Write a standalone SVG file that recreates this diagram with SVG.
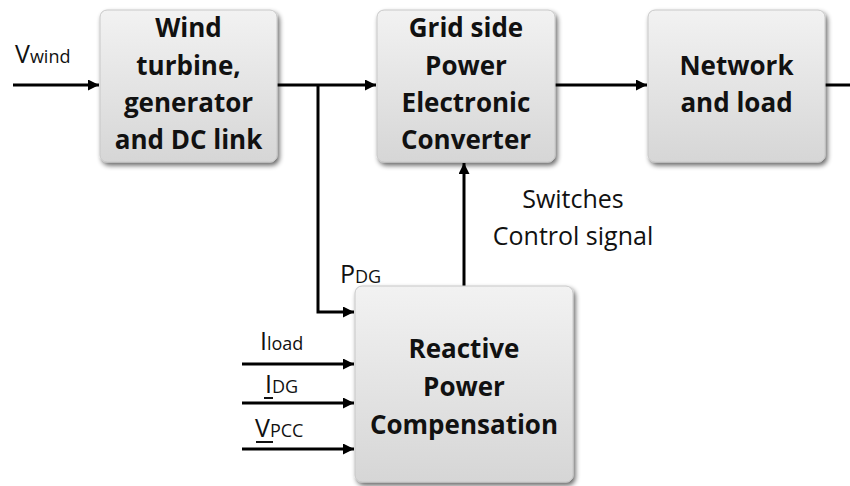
<svg xmlns="http://www.w3.org/2000/svg" width="850" height="486" viewBox="0 0 850 486">
<defs>
<linearGradient id="g" x1="0" y1="0" x2="0" y2="1">
<stop offset="0" stop-color="#f2f2f2"/>
<stop offset="1" stop-color="#d6d6d6"/>
</linearGradient>
<filter id="sh" x="-10%" y="-10%" width="125%" height="125%">
<feGaussianBlur in="SourceAlpha" stdDeviation="2.5"/>
<feOffset dx="2" dy="3" result="b"/>
<feComponentTransfer><feFuncA type="linear" slope="0.6"/></feComponentTransfer>
<feMerge><feMergeNode/><feMergeNode in="SourceGraphic"/></feMerge>
</filter>
<marker id="ah" viewBox="0 0 10 10" refX="10" refY="5" markerWidth="12" markerHeight="11" markerUnits="userSpaceOnUse" orient="auto">
<path d="M0,0 L10,5 L0,10 z" fill="#000"/>
</marker>
</defs>
<style>
.box{fill:url(#g);stroke:#c8c8c8;stroke-width:1;filter:url(#sh)}
.bt{font-family:"Open Sans","Liberation Sans",sans-serif;font-weight:bold;font-size:26px;fill:#111;text-anchor:middle}
.lb{font-family:"Open Sans","Liberation Sans",sans-serif;font-size:25px;fill:#111}
.sub{font-size:18px}
.ln{fill:none;stroke:#000;stroke-width:3}
.ar{fill:none;stroke:#000;stroke-width:3;marker-end:url(#ah)}
</style>
<rect width="850" height="486" fill="#fff"/>
<g id="connectors">
<path class="ar" d="M13,85 H99"/>
<path class="ln" d="M277,85 H318"/>
<path class="ar" d="M318,85 H376"/>
<path class="ar" d="M318,85 V312 H354"/>
<path class="ar" d="M555,85 H647"/>
<path class="ln" d="M825,85 H850"/>
<path class="ar" d="M464,286 V163"/>
<path class="ar" d="M242,364 H354"/>
<path class="ar" d="M242,403 H354"/>
<path class="ar" d="M242,449 H354"/>
</g>
<g id="wind">
<rect class="box" x="100" y="10" width="177" height="152" rx="7"/>
<text class="bt" x="188.5" y="37">Wind</text>
<text class="bt" x="188.5" y="75">turbine,</text>
<text class="bt" x="188.5" y="112">generator</text>
<text class="bt" x="188.5" y="149">and DC link</text>
</g>
<g id="converter">
<rect class="box" x="377" y="10" width="178" height="152" rx="7"/>
<text class="bt" x="466" y="37">Grid side</text>
<text class="bt" x="466" y="75">Power</text>
<text class="bt" x="466" y="112">Electronic</text>
<text class="bt" x="466" y="149">Converter</text>
</g>
<g id="network">
<rect class="box" x="648" y="10" width="177" height="152" rx="7"/>
<text class="bt" x="736.5" y="75">Network</text>
<text class="bt" x="736.5" y="112">and load</text>
</g>
<g id="reactive">
<rect class="box" x="355" y="286" width="218" height="196" rx="7"/>
<text class="bt" x="464" y="358">Reactive</text>
<text class="bt" x="464" y="396">Power</text>
<text class="bt" x="464" y="434">Compensation</text>
</g>
<g id="labels">
<text class="lb" x="15" y="63">V<tspan class="sub">wind</tspan></text>
<text class="lb" x="340" y="283">P<tspan class="sub">DG</tspan></text>
<text class="lb" x="260" y="350">I<tspan class="sub">load</tspan></text>
<text class="lb" x="265" y="393">I<tspan class="sub">DG</tspan></text>
<line x1="264" y1="398" x2="273" y2="398" stroke="#111" stroke-width="2"/>
<text class="lb" x="255" y="437">V<tspan class="sub">PCC</tspan></text>
<line x1="256" y1="442" x2="273" y2="442" stroke="#111" stroke-width="2"/>
<text class="lb" x="573" y="208" text-anchor="middle">Switches</text>
<text class="lb" x="573" y="245" text-anchor="middle">Control signal</text>
</g>
</svg>
